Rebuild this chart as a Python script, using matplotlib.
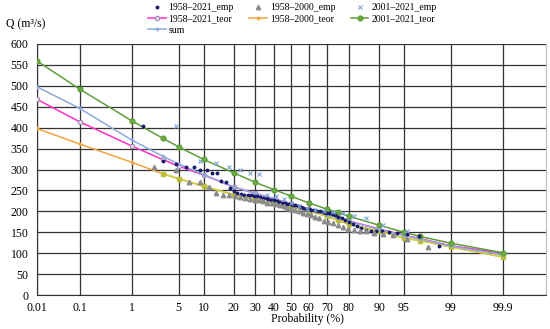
import numpy as np
import matplotlib
matplotlib.use("Agg")
import matplotlib.pyplot as plt
from statistics import NormalDist

# ---- data (probabilities in %, discharge Q in m3/s) ----
p_emp_all = [1.54, 3.08, 4.62, 6.15, 7.69, 9.23, 10.77, 12.31, 13.85, 15.38,
             16.92, 18.46, 20.0, 21.54, 23.08, 24.62, 26.15, 27.69, 29.23, 30.77,
             32.31, 33.85, 35.38, 36.92, 38.46, 40.0, 41.54, 43.08, 44.62, 46.15,
             47.69, 49.23, 50.77, 52.31, 53.85, 55.38, 56.92, 58.46, 60.0, 61.54,
             63.08, 64.62, 66.15, 67.69, 69.23, 70.77, 72.31, 73.85, 75.38, 76.92,
             78.46, 80.0, 81.54, 83.08, 84.62, 86.15, 87.69, 89.23, 90.77, 92.31,
             93.85, 95.38, 96.92, 98.46]
q_emp_all = [404, 321, 312, 306, 305, 300, 299, 292, 291, 272,
             269, 256, 248, 243, 241, 240, 239, 238, 237, 236,
             234, 232, 231, 229, 228, 226, 224, 222, 221, 219,
             218, 217, 216, 214, 212, 210, 208, 206, 205, 204,
             203, 202, 201, 199, 197, 195, 193, 191, 186, 183,
             179, 174, 170, 165, 160, 156, 154, 153, 152, 151,
             149, 146, 140, 117]

p_emp_old = [2.27, 4.55, 6.82, 9.09, 11.36, 13.64, 15.91, 18.18, 20.45, 22.73,
             25.0, 27.27, 29.55, 31.82, 34.09, 36.36, 38.64, 40.91, 43.18, 45.45,
             47.73, 50.0, 52.27, 54.55, 56.82, 59.09, 61.36, 63.64, 65.91, 68.18,
             70.45, 72.73, 75.0, 77.27, 79.55, 81.82, 84.09, 86.36, 88.64, 90.91,
             93.18, 95.45, 97.73]
q_emp_old = [305, 299, 271, 270, 258, 243, 240, 239, 237, 234,
             231, 229, 228, 226, 224, 221, 219, 217, 214, 212,
             209, 206, 203, 200, 197, 194, 191, 187, 183, 178,
             175, 172, 168, 163, 158, 156, 154, 152, 149, 147,
             144, 135, 115]

p_emp_new = [4.55, 9.09, 13.64, 18.18, 22.73, 27.27, 31.82, 36.36, 40.91, 45.45,
             50.0, 54.55, 59.09, 63.64, 68.18, 72.73, 77.27, 81.82, 86.36, 90.91,
             95.45]
q_emp_new = [404, 320, 316, 306, 298, 292, 290, 240, 237, 230,
             220, 212, 206, 203, 200, 198, 196, 190, 183, 168,
             153]

p_teor = [0.01, 0.1, 1, 3, 5, 10, 20, 30, 40, 50, 60, 70, 75, 80, 90, 95, 97, 99, 99.9]
q_teor_all = [468, 414, 356, 324, 308, 287, 258, 243, 230, 218, 206, 193, 186, 177, 158, 143, 135, 118, 100]
q_teor_old = [398, 361, 317, 290, 278, 260, 240, 228, 219, 211, 201, 188, 179, 169, 153, 136, 130, 115, 91]
q_teor_new = [560, 492, 416, 375, 354, 324, 292, 269, 252, 236, 220, 205, 198, 188, 167, 150, 140, 124, 101]
q_sum = [498, 446, 370, 332, 313, 288, 258, 243, 230, 217, 205, 192, 185, 176, 157, 142, 134, 117, 96]

x_ticks = [0.01, 0.1, 1, 5, 10, 20, 30, 40, 50, 60, 70, 80, 90, 95, 99, 99.9]
x_labels = ["0.01", "0.1", "1", "5", "10", "20", "30", "40", "50", "60", "70", "80", "90", "95", "99", "99.9"]

# ---- normal probability scale ----
_nd = NormalDist()
_ppf = np.vectorize(_nd.inv_cdf, otypes=[float])
_cdf = np.vectorize(_nd.cdf, otypes=[float])


def forward(p):
    p = np.clip(np.asarray(p, dtype=float) / 100.0, 1e-9, 1 - 1e-9)
    return _ppf(p)


def inverse(z):
    return _cdf(np.asarray(z, dtype=float)) * 100.0


plt.rcParams['font.family'] = ['Liberation Serif', 'DejaVu Serif']

fig = plt.figure(figsize=(5.5, 3.29), dpi=100)
ax = fig.add_axes([0.0667, 0.1033, 0.9260, 0.7630])
ax.set_xscale('function', functions=(forward, inverse))

# theoretical curves
ax.plot(p_teor, q_teor_all, color='#FF2FCB', lw=1.1, marker='o', ms=3.2,
        mfc='#E8D8EE', mec='#9A7FA8', mew=0.7, label='1958–2021_teor', zorder=3)
ax.plot(p_teor, q_teor_old, color='#F2A33A', lw=1.1, marker='+', ms=3.5,
        mec='#F2A33A', label='1958–2000_teor', zorder=3)
mask = np.array(p_teor) >= 3
ax.plot(np.array(p_teor)[mask], np.array(q_teor_old)[mask], color='#CFCF45',
        lw=1.2, marker='s', ms=2.4, mfc='#BDBD3A', mec='#BDBD3A', zorder=3)
ax.plot(p_teor, q_teor_new, color='#5E9E3A', lw=1.1, marker='o', ms=3.4,
        mfc='#6DAA45', mec='#5E9E3A', label='2001–2021_teor', zorder=4)
ax.plot(p_teor, q_sum, color='#8EA9DB', lw=1.1, marker='+', ms=2.5,
        label='sum', zorder=3)

# empirical points
ax.plot(p_emp_all, q_emp_all, ls='none', marker='o', ms=1.8, color='#1B1B6B',
        label='1958–2021_emp', zorder=5)
ax.plot(p_emp_old, q_emp_old, ls='none', marker='^', ms=3.2, color='#8C8C8C',
        label='1958–2000_emp', zorder=5)
ax.plot(p_emp_new, q_emp_new, ls='none', marker='x', ms=3.3, mew=0.8, color='#7FA6DA',
        label='2001–2021_emp', zorder=5)

ax.set_xlim(0.01, 99.99)
ax.set_ylim(0, 600)
ax.set_xticks(x_ticks)
ax.set_xticklabels(x_labels)
ax.xaxis.set_minor_locator(matplotlib.ticker.NullLocator())
ax.set_yticks(np.arange(0, 601, 50))
ax.tick_params(axis='both', length=0, labelsize=8.5)
ax.tick_params(axis='x', pad=5)
ax.tick_params(axis='y', pad=6)
ax.grid(True, color='#333333', lw=0.9)
ax.set_axisbelow(True)
for s in ['left', 'bottom']:
    ax.spines[s].set_color('#333333')
ax.spines['top'].set_visible(False)
ax.spines['right'].set_color('#BBBBBB')

fig.text(6 / 550, 1 - 24 / 329, 'Q (m³/s)', fontsize=8.5, va='center', ha='left')
fig.text(307 / 550, 1 - 319 / 329, 'Probability (%)', fontsize=8.5, va='center', ha='center')

# legend order (column-major): col1, col2, col3
h, l = ax.get_legend_handles_labels()
order = ['1958–2021_emp', '1958–2021_teor', 'sum',
         '1958–2000_emp', '1958–2000_teor',
         '2001–2021_emp', '2001–2021_teor']
hd = dict(zip(l, h))
fig.legend([hd[k] for k in order], order, ncol=3, loc='upper left',
           bbox_to_anchor=(148 / 550, 1 - 3 / 329), frameon=False, fontsize=7,
           borderpad=0, borderaxespad=0, handlelength=1.8, handletextpad=0.3,
           columnspacing=1.6, labelspacing=0.25)

fig.savefig('out.png', dpi=100)
